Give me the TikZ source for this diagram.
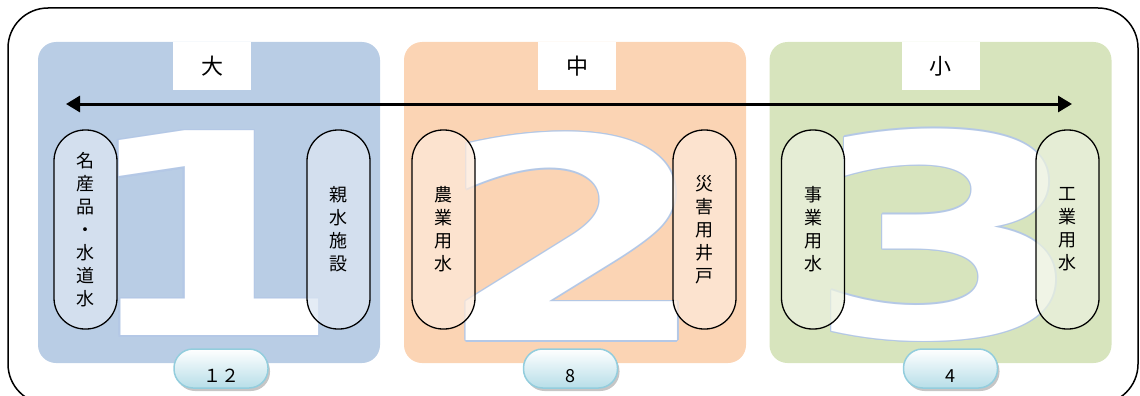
\documentclass[tikz,border=0pt]{standalone}
\usepackage{fontspec}
\setmainfont{Noto Sans CJK JP}
\newfontfamily\digitfont{DejaVu Sans}
\usetikzlibrary{arrows.meta,shadows}

\definecolor{pblue}{HTML}{B9CDE5}
\definecolor{porange}{HTML}{FBD4B4}
\definecolor{pgreen}{HTML}{D7E4BD}
\definecolor{cblue}{HTML}{DCE6F2}
\definecolor{corange}{HTML}{FDE9D9}
\definecolor{cgreen}{HTML}{EBF1DE}
\definecolor{edge}{HTML}{B4C8E6}
\definecolor{badgeblue}{HTML}{B7DEE8}
\definecolor{badgeedge}{HTML}{93CDDD}

\begin{document}
\begin{tikzpicture}[x=1pt,y=-1pt]
    \tikzstyle{frame}=[draw=black,line width=1.5pt,rounded corners=40pt,minimum width=1130pt,minimum height=396pt,inner sep=0pt]
    \tikzstyle{panel}=[rounded corners=18pt,minimum width=342pt,minimum height=321pt,inner sep=0pt]
    \tikzstyle{tag}=[fill=white,anchor=north,minimum width=78pt,minimum height=48pt,inner sep=0pt,font=\fontsize{22}{22}\selectfont]
    \tikzstyle{digit}=[inner sep=0pt,font=\digitfont\bfseries\fontsize{281}{281}\selectfont]
    \tikzstyle{capsule}=[draw=black,line width=1.3pt,rounded corners=31pt,minimum width=63pt,minimum height=199pt,inner sep=0pt,align=center,fill opacity=0.75,text opacity=1,font=\fontsize{18}{23}\selectfont]
    \tikzstyle{badge}=[draw=badgeedge,line width=1.5pt,rounded corners=19pt,minimum width=94pt,minimum height=39pt,inner sep=0pt,top color=white,bottom color=badgeblue,drop shadow={shadow xshift=2pt,shadow yshift=-3pt,opacity=0.45},font=\fontsize{18}{18}\selectfont]
    \useasboundingbox (0,0) rectangle (1140,396);
    \clip (0,0) rectangle (1140,396);

    \node[frame] (outer) at (573,206) {};

    % three groups
    \node[panel,fill=pblue] (big) at (209,202.5) {};
    \node[panel,fill=porange] (mid) at (575,202.5) {};
    \node[panel,fill=pgreen] (small) at (940.5,202.5) {};
    \node[tag] (tagbig) at (212,42) {大};
    \node[tag] (tagmid) at (577,42) {中};
    \node[tag] (tagsmall) at (940.5,42) {小};

    \coordinate (left) at (66,104);
    \coordinate (right) at (1072,104);
    \draw[line width=3pt,{Triangle[length=14pt,width=16pt]}-{Triangle[length=14pt,width=16pt]}] (left) -- (right);

    % big digits
    \foreach \a in {0,45,...,315} {
      \node[digit,text=edge,shift={(\a:1.6)}] (oneedge\a) at (210,233.5) {\scalebox{1.38}[1]{1}};
      \node[digit,text=edge,shift={(\a:1.6)}] (twoedge\a) at (573.5,236.5) {\scalebox{1.42}[1]{2}};
      \node[digit,text=edge,shift={(\a:1.6)}] (threeedge\a) at (946.5,235) {\scalebox{1.45}[1]{3}};
    }
    \node[digit,text=white] (one) at (210,233.5) {\scalebox{1.38}[1]{1}};
    \node[digit,text=white] (two) at (573.5,236.5) {\scalebox{1.42}[1]{2}};
    \node[digit,text=white] (three) at (946.5,235) {\scalebox{1.45}[1]{3}};

    % uses
    \node[capsule,fill=cblue] (brand) at (85.5,229.5) {名\\産\\品\\・\\水\\道\\水};
    \node[capsule,fill=cblue] (park) at (338.5,229.5) {親\\水\\施\\設};
    \node[capsule,fill=corange] (farm) at (443.5,229.5) {農\\業\\用\\水};
    \node[capsule,fill=corange] (well) at (704.5,229.5) {災\\害\\用\\井\\戸};
    \node[capsule,fill=cgreen] (office) at (813,229.5) {事\\業\\用\\水};
    \node[capsule,fill=cgreen] (plant) at (1067.5,229.5) {工\\業\\用\\水};

    % counts
    \node[badge] (countbig) at (221,368.5) {\raisebox{-14pt}[0pt][0pt]{１２}};
    \node[badge] (countmid) at (570.5,368.5) {\raisebox{-14pt}[0pt][0pt]{8}};
    \node[badge] (countsmall) at (950.5,368.5) {\raisebox{-14pt}[0pt][0pt]{4}};
\end{tikzpicture}
\end{document}
